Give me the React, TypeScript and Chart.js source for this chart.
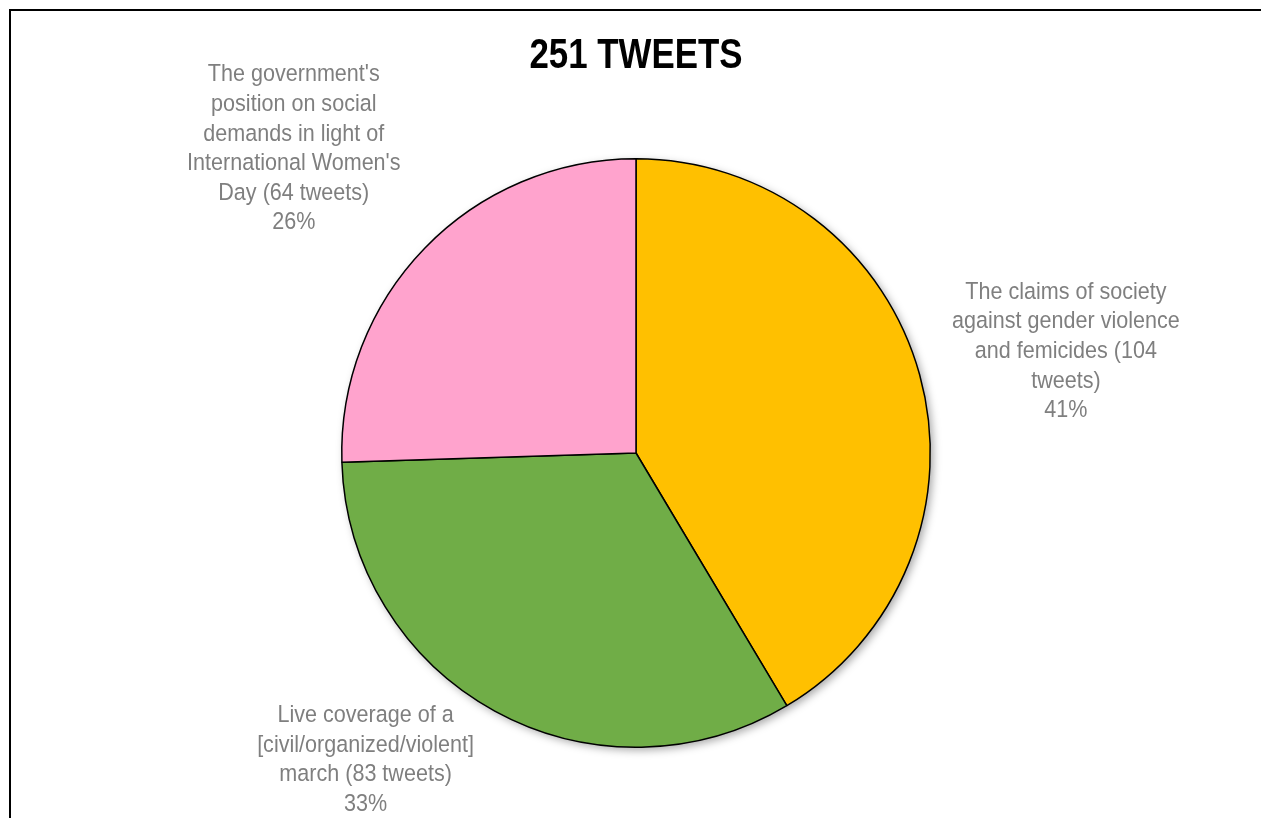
import React, { useEffect, useRef } from "react";
import { Chart, registerables } from "chart.js";

Chart.register(...registerables);

const titleText = "251 TWEETS";
const categoryLines: string[][] = [
  ["The claims of society", "against gender violence", "and femicides (104", "tweets)"],
  ["Live coverage of a", "[civil/organized/violent]", "march (83 tweets)"],
  ["The government's", "position on social", "demands in light of", "International Women's", "Day (64 tweets)"],
];
const tweetCounts = [104, 83, 64];
const percentLabels = ["41%", "33%", "26%"];
const sliceColors = ["#FFC000", "#70AD47", "#FFA3CD"];

// label block centres, in units of the pie radius from the pie centre
const labelOffsets = [
  [1.461, -0.346],
  [-0.919, 1.042],
  [-1.163, -1.034],
];

const FONT = '"Liberation Sans Narrow", "Arial Narrow", "Liberation Sans", Arial, sans-serif';

function narrowText(ctx: CanvasRenderingContext2D, text: string, x: number, y: number, sx: number) {
  ctx.save();
  ctx.translate(x, y);
  ctx.scale(sx, 1);
  ctx.fillText(text, 0, 0);
  ctx.restore();
}

const shadowPlugin = {
  id: "pieShadow",
  beforeDatasetsDraw(chart: any) {
    const meta = chart.getDatasetMeta(0);
    const arc = meta.data[0];
    if (!arc) return;
    const ctx = chart.ctx;
    ctx.save();
    ctx.shadowColor = "rgba(0,0,0,0.35)";
    ctx.shadowBlur = 8;
    ctx.shadowOffsetX = 3;
    ctx.shadowOffsetY = 3;
    ctx.fillStyle = "#ffffff";
    ctx.beginPath();
    ctx.arc(arc.x, arc.y, arc.outerRadius, 0, Math.PI * 2);
    ctx.fill();
    ctx.restore();
  },
};

const labelPlugin = {
  id: "sideLabels",
  afterDraw(chart: any) {
    const ctx = chart.ctx;
    const meta = chart.getDatasetMeta(0);
    ctx.save();
    ctx.textAlign = "center";
    ctx.textBaseline = "middle";
    // title
    ctx.fillStyle = "#000000";
    ctx.font = `bold 42px ${FONT}`;
    const first = meta.data[0];
    narrowText(ctx, titleText, first.x, 56, 0.83);
    // labels
    ctx.fillStyle = "#7F7F7F";
    ctx.font = `24.5px ${FONT}`;
    const lh = 29.6;
    meta.data.forEach((arc: any, i: number) => {
      const lines = [...categoryLines[i], percentLabels[i]];
      const cx = arc.x + labelOffsets[i][0] * arc.outerRadius;
      const cy = arc.y + labelOffsets[i][1] * arc.outerRadius;
      const startY = cy - ((lines.length - 1) * lh) / 2;
      lines.forEach((t, j) => narrowText(ctx, t, cx, startY + j * lh, 0.88));
    });
    ctx.restore();
  },
};

export default function App() {
  const ref = useRef<HTMLCanvasElement | null>(null);
  useEffect(() => {
    if (!ref.current) return;
    const chart = new Chart(ref.current, {
      type: "pie",
      data: {
        labels: categoryLines.map((l) => l.join(" ")),
        datasets: [
          {
            data: tweetCounts,
            backgroundColor: sliceColors,
            borderColor: "#000000",
            borderWidth: 1.5,
          },
        ],
      },
      options: {
        responsive: false,
        animation: false,
        layout: { padding: { left: 341, right: 330, top: 158, bottom: 70 } },
        plugins: {
          legend: { display: false },
          tooltip: { enabled: false },
          title: { display: false },
        },
      },
      plugins: [shadowPlugin, labelPlugin],
    });
    return () => chart.destroy();
  }, []);
  return (
    <div style={{ position: "fixed", left: 0, top: 0, width: 1261, height: 818, overflow: "hidden", background: "#fff" }}>
      <div
        style={{
          position: "absolute",
          left: 9,
          top: 9,
          width: 1400,
          height: 1000,
          border: "2px solid #000",
        }}
      />
      <canvas ref={ref} width={1261} height={818} style={{ position: "absolute", left: 0, top: 0 }} />
    </div>
  );
}
